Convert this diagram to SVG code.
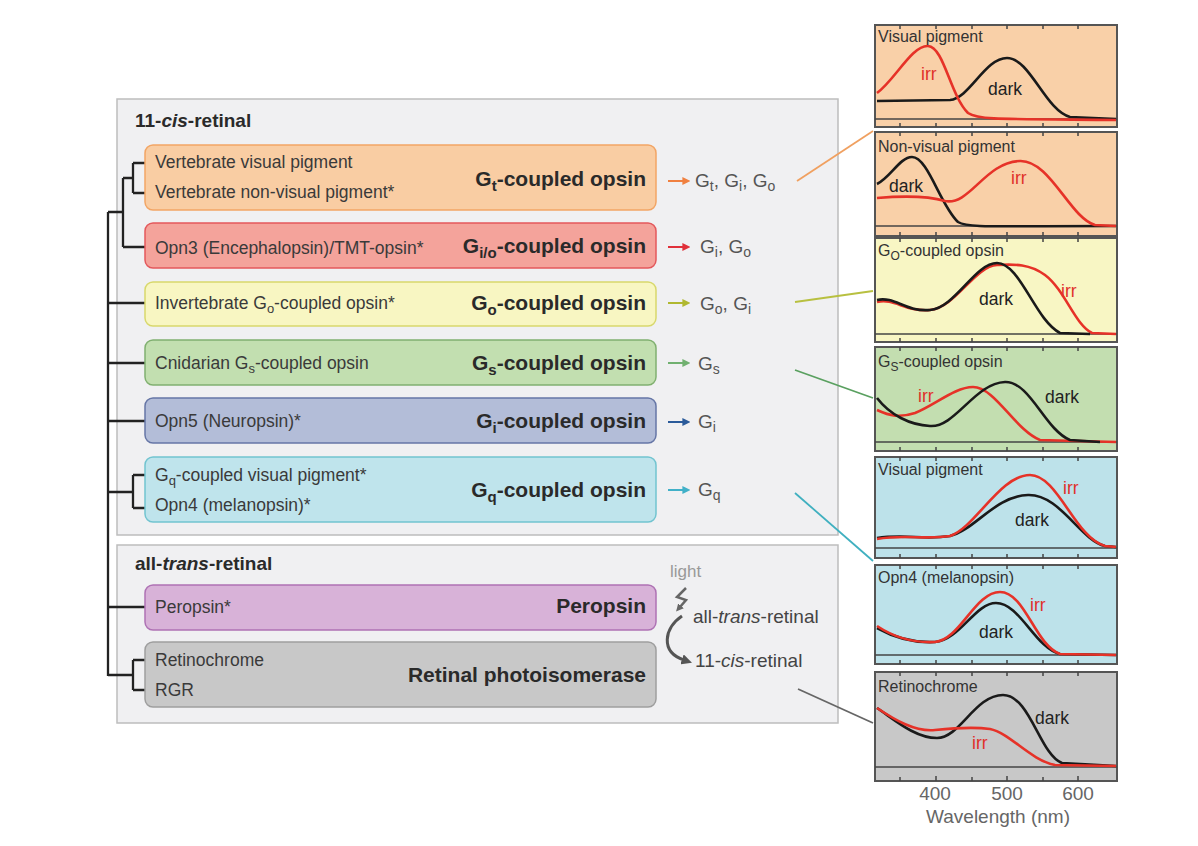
<svg xmlns="http://www.w3.org/2000/svg" width="1198" height="846" viewBox="0 0 1198 846">
<defs>
<style>
text{font-family:"Liberation Sans",Arial,Helvetica,sans-serif}
.grp{fill:#f0f0f2;stroke:#bdbdbd;stroke-width:1.5}
.hdr{font-size:19px;font-weight:bold;fill:#2a2a2a}
.lt{font-size:17.5px;fill:#3a3a3a}
.bl{font-size:21px;font-weight:bold;fill:#2a2a2a;text-anchor:end}
.gl{font-size:19px;fill:#555}
.tree{fill:none;stroke:#222;stroke-width:2.3}
.pan{stroke:#555;stroke-width:2}
.base{stroke:#444;stroke-width:1.5;fill:none}
.tick{stroke:#444;stroke-width:1.5}
.pt{font-size:16px;fill:#333}
.dk{font-size:17.5px;fill:#222}
.ir{font-size:17.5px;fill:#e0302a}
.cb{fill:none;stroke:#1a1a1a;stroke-width:2.6}
.cr{fill:none;stroke:#e63228;stroke-width:2.6}
.ax{font-size:19px;fill:#666}
</style>
<marker id="aO" viewBox="0 0 10 10" refX="2" refY="5" markerWidth="4" markerHeight="4" orient="auto"><path d="M0,0 L10,5 L0,10 z" fill="#f08040"/></marker>
<marker id="aR" viewBox="0 0 10 10" refX="2" refY="5" markerWidth="4" markerHeight="4" orient="auto"><path d="M0,0 L10,5 L0,10 z" fill="#e0303a"/></marker>
<marker id="aY" viewBox="0 0 10 10" refX="2" refY="5" markerWidth="4" markerHeight="4" orient="auto"><path d="M0,0 L10,5 L0,10 z" fill="#b0b830"/></marker>
<marker id="aG" viewBox="0 0 10 10" refX="2" refY="5" markerWidth="4" markerHeight="4" orient="auto"><path d="M0,0 L10,5 L0,10 z" fill="#70b070"/></marker>
<marker id="aB" viewBox="0 0 10 10" refX="2" refY="5" markerWidth="4" markerHeight="4" orient="auto"><path d="M0,0 L10,5 L0,10 z" fill="#2a5a9a"/></marker>
<marker id="aC" viewBox="0 0 10 10" refX="2" refY="5" markerWidth="4" markerHeight="4" orient="auto"><path d="M0,0 L10,5 L0,10 z" fill="#40b0c8"/></marker>
<marker id="aK" viewBox="0 0 10 10" refX="2" refY="5" markerWidth="3.5" markerHeight="3.5" orient="auto"><path d="M0,0 L10,5 L0,10 z" fill="#555"/></marker>
<marker id="aL" viewBox="0 0 10 10" refX="2" refY="5" markerWidth="3" markerHeight="3" orient="auto"><path d="M0,0 L10,5 L0,10 z" fill="#666"/></marker>
</defs>
<rect width="1198" height="846" fill="#ffffff"/>

<g id="group-cis">
<rect class="grp" x="117" y="99" width="721" height="436"/>
<text class="hdr" x="135" y="127">11-<tspan font-style="italic">cis</tspan>-retinal</text>
</g>
<g id="group-trans">
<rect class="grp" x="117" y="545" width="721" height="178"/>
<text class="hdr" x="135" y="570">all-<tspan font-style="italic">trans</tspan>-retinal</text>
</g>

<g id="tree">
<path class="tree" d="M108,212 V676"/>
<path class="tree" d="M108,212 H123 M123,178 V247 M123,178 H133 M133,163 V193 M133,163 H146 M133,193 H146 M123,247 H146"/>
<path class="tree" d="M108,303 H146 M108,363 H146 M108,421 H146"/>
<path class="tree" d="M108,492 H133 M133,475 V508 M133,475 H146 M133,508 H146"/>
<path class="tree" d="M108,607 H146"/>
<path class="tree" d="M108,675 H133 M133,660 V690 M133,660 H146 M133,690 H146"/>
</g>

<g id="node-gt">
<rect x="145" y="145" width="511" height="65" rx="8" fill="#f9cda3" stroke="#f2a565" stroke-width="1.5"/>
<text class="lt" x="155" y="168">Vertebrate visual pigment</text>
<text class="lt" x="155" y="198">Vertebrate non-visual pigment*</text>
<text class="bl" x="646" y="186">G<tspan font-size="15" dy="5">t</tspan><tspan dy="-5">-coupled opsin</tspan></text>
</g>
<g id="node-gio">
<rect x="145" y="223" width="511" height="45" rx="8" fill="#f4a39b" stroke="#e3585c" stroke-width="1.5"/>
<text class="lt" x="155" y="254">Opn3 (Encephalopsin)/TMT-opsin*</text>
<text class="bl" x="646" y="253">G<tspan font-size="15" dy="5">i/o</tspan><tspan dy="-5">-coupled opsin</tspan></text>
</g>
<g id="node-go">
<rect x="145" y="282" width="511" height="44" rx="8" fill="#f8f6c2" stroke="#d8d86c" stroke-width="1.5"/>
<text class="lt" x="155" y="309">Invertebrate G<tspan font-size="13" dy="4">o</tspan><tspan dy="-4">-coupled opsin*</tspan></text>
<text class="bl" x="646" y="310">G<tspan font-size="15" dy="5">o</tspan><tspan dy="-5">-coupled opsin</tspan></text>
</g>
<g id="node-gs">
<rect x="145" y="340" width="511" height="45" rx="8" fill="#c2dfb0" stroke="#80b070" stroke-width="1.5"/>
<text class="lt" x="155" y="369">Cnidarian G<tspan font-size="13" dy="4">s</tspan><tspan dy="-4">-coupled opsin</tspan></text>
<text class="bl" x="646" y="370">G<tspan font-size="15" dy="5">s</tspan><tspan dy="-5">-coupled opsin</tspan></text>
</g>
<g id="node-gi">
<rect x="145" y="398" width="511" height="45" rx="8" fill="#b3bdd8" stroke="#6676a6" stroke-width="1.5"/>
<text class="lt" x="155" y="427">Opn5 (Neuropsin)*</text>
<text class="bl" x="646" y="428">G<tspan font-size="15" dy="5">i</tspan><tspan dy="-5">-coupled opsin</tspan></text>
</g>
<g id="node-gq">
<rect x="145" y="457" width="511" height="65" rx="8" fill="#bfe4ec" stroke="#72c4d0" stroke-width="1.5"/>
<text class="lt" x="155" y="481">G<tspan font-size="13" dy="4">q</tspan><tspan dy="-4">-coupled visual pigment*</tspan></text>
<text class="lt" x="155" y="511">Opn4 (melanopsin)*</text>
<text class="bl" x="646" y="497">G<tspan font-size="15" dy="5">q</tspan><tspan dy="-5">-coupled opsin</tspan></text>
</g>
<g id="node-peropsin">
<rect x="145" y="585" width="511" height="45" rx="8" fill="#d8b2d8" stroke="#ae72b4" stroke-width="1.5"/>
<text class="lt" x="155" y="613">Peropsin*</text>
<text class="bl" x="646" y="613">Peropsin</text>
</g>
<g id="node-photoisomerase">
<rect x="145" y="642" width="511" height="65" rx="8" fill="#c8c8c8" stroke="#9e9e9e" stroke-width="1.5"/>
<text class="lt" x="155" y="666">Retinochrome</text>
<text class="lt" x="155" y="696">RGR</text>
<text class="bl" x="646" y="682">Retinal photoisomerase</text>
</g>

<g id="gprotein-labels">
<text class="gl" x="695" y="187">G<tspan font-size="14" dy="4">t</tspan><tspan dy="-4">, G</tspan><tspan font-size="14" dy="4">i</tspan><tspan dy="-4">, G</tspan><tspan font-size="14" dy="4">o</tspan></text>
<text class="gl" x="700" y="253">G<tspan font-size="14" dy="4">i</tspan><tspan dy="-4">, G</tspan><tspan font-size="14" dy="4">o</tspan></text>
<text class="gl" x="700" y="310">G<tspan font-size="14" dy="4">o</tspan><tspan dy="-4">, G</tspan><tspan font-size="14" dy="4">i</tspan></text>
<text class="gl" x="698" y="370">G<tspan font-size="14" dy="4">s</tspan></text>
<text class="gl" x="698" y="428">G<tspan font-size="14" dy="4">i</tspan></text>
<text class="gl" x="698" y="496">G<tspan font-size="14" dy="4">q</tspan></text>
</g>

<g id="light-reaction">
<text x="670" y="577" font-size="17" fill="#999">light</text>
<path d="M686,588 L677,597 L686,600 L680,607" fill="none" stroke="#666" stroke-width="2.5" marker-end="url(#aL)"/>
<text x="693" y="623" font-size="19" fill="#444">all-<tspan font-style="italic">trans</tspan>-retinal</text>
<text x="695" y="667" font-size="19" fill="#444">11-<tspan font-style="italic">cis</tspan>-retinal</text>
<path d="M682,616 C664,628 660,652 684,660" fill="none" stroke="#555" stroke-width="3" marker-end="url(#aK)"/>
</g>

<g id="connectors">
<line x1="668" y1="181" x2="684" y2="181" stroke="#f08040" stroke-width="2" marker-end="url(#aO)"/>
<line x1="668" y1="247" x2="684" y2="247" stroke="#e0303a" stroke-width="2" marker-end="url(#aR)"/>
<line x1="668" y1="303" x2="684" y2="303" stroke="#b0b830" stroke-width="2" marker-end="url(#aY)"/>
<line x1="668" y1="363" x2="684" y2="363" stroke="#70b070" stroke-width="2" marker-end="url(#aG)"/>
<line x1="668" y1="422" x2="684" y2="422" stroke="#2a5a9a" stroke-width="2" marker-end="url(#aB)"/>
<line x1="668" y1="490" x2="684" y2="490" stroke="#40b0c8" stroke-width="2" marker-end="url(#aC)"/>
<line x1="797" y1="181" x2="873" y2="131" stroke="#f0a060" stroke-width="1.8"/>
<line x1="795" y1="302" x2="873" y2="291" stroke="#b8c040" stroke-width="1.8"/>
<line x1="795" y1="370" x2="873" y2="398" stroke="#5aa060" stroke-width="1.8"/>
<line x1="795" y1="493" x2="873" y2="561" stroke="#40b0c0" stroke-width="1.8"/>
<line x1="798" y1="689" x2="873" y2="723" stroke="#666" stroke-width="1.8"/>
</g>

<g id="panel-1">
<rect class="pan" x="875" y="25" width="242" height="102" fill="#f9d0a8"/>
<line class="base" x1="875" y1="119" x2="1117" y2="119"/>
<path class="tick" d="M900,127v-4 M936,127v-4 M972,127v-4 M1007,127v-4 M1043,127v-4 M1078,127v-4 M900,25v4 M936,25v4 M972,25v4 M1007,25v4 M1043,25v4 M1078,25v4"/>
<path class="cb" d="M877,101 L950,100 C970,98 985,58 1007,58 C1030,58 1045,110 1070,117 L1116,119"/>
<path class="cr" d="M877,93 C895,80 912,45 928,46 C944,47 950,95 968,113 C978,120 1000,119 1116,120"/>
<text class="pt" x="878" y="42">Visual pigment</text>
<text class="ir" x="921" y="80">irr</text>
<text class="dk" x="988" y="95">dark</text>
</g>
<g id="panel-2">
<rect class="pan" x="875" y="132" width="242" height="104" fill="#f9d0a8"/>
<line class="base" x1="875" y1="226" x2="1117" y2="226"/>
<path class="tick" d="M900,236v-4 M936,236v-4 M972,236v-4 M1007,236v-4 M1043,236v-4 M1078,236v-4 M900,132v4 M936,132v4 M972,132v4 M1007,132v4 M1043,132v4 M1078,132v4"/>
<path class="cb" d="M877,184 C890,178 900,157 912,157 C928,157 940,205 958,222 C968,228 990,226 1116,226"/>
<path class="cr" d="M877,198 C900,196 925,195 945,201 C970,206 985,162 1020,161 C1050,160 1070,218 1095,225 L1116,226"/>
<text class="pt" x="878" y="152">Non-visual pigment</text>
<text class="dk" x="889" y="192">dark</text>
<text class="ir" x="1011" y="184">irr</text>
</g>
<g id="panel-3">
<rect class="pan" x="875" y="238" width="242" height="104" fill="#f8f6c4"/>
<line class="base" x1="875" y1="334" x2="1117" y2="334"/>
<path class="tick" d="M900,342v-4 M936,342v-4 M972,342v-4 M1007,342v-4 M1043,342v-4 M1078,342v-4 M900,238v4 M936,238v4 M972,238v4 M1007,238v4 M1043,238v4 M1078,238v4"/>
<path class="cr" d="M877,302 C895,298 905,312 930,310 C955,308 975,266 997,265 C1015,264 1030,264 1045,275 C1065,290 1075,325 1092,333 L1116,334"/>
<path class="cb" d="M877,300 C895,296 905,312 930,310 C955,308 975,263 997,263 C1020,263 1035,320 1060,333 L1090,334"/>
<text class="pt" x="878" y="256">G<tspan font-size="12" dy="4">O</tspan><tspan dy="-4">-coupled opsin</tspan></text>
<text class="dk" x="979" y="305">dark</text>
<text class="ir" x="1061" y="297">irr</text>
</g>
<g id="panel-4">
<rect class="pan" x="875" y="347" width="242" height="104" fill="#c3deb0"/>
<line class="base" x1="875" y1="442" x2="1117" y2="442"/>
<path class="tick" d="M900,451v-4 M936,451v-4 M972,451v-4 M1007,451v-4 M1043,451v-4 M1078,451v-4 M900,347v4 M936,347v4 M972,347v4 M1007,347v4 M1043,347v4 M1078,347v4"/>
<path class="cr" d="M877,410 C890,416 900,418 915,413 C935,405 955,387 973,387 C995,387 1015,430 1040,440 L1116,442"/>
<path class="cb" d="M877,398 C890,415 910,425 930,426 C955,428 975,383 1005,382 C1030,381 1045,430 1070,440 L1100,442"/>
<text class="pt" x="878" y="367">G<tspan font-size="12" dy="4">S</tspan><tspan dy="-4">-coupled opsin</tspan></text>
<text class="ir" x="918" y="402">irr</text>
<text class="dk" x="1045" y="403">dark</text>
</g>
<g id="panel-5">
<rect class="pan" x="875" y="457" width="242" height="101" fill="#bde2ea"/>
<line class="base" x1="875" y1="548" x2="1117" y2="548"/>
<path class="tick" d="M900,558v-4 M936,558v-4 M972,558v-4 M1007,558v-4 M1043,558v-4 M1078,558v-4 M900,457v4 M936,457v4 M972,457v4 M1007,457v4 M1043,457v4 M1078,457v4"/>
<path class="cb" d="M877,538 C905,534 925,540 950,536 C975,530 995,496 1028,495 C1060,494 1080,540 1105,546 L1116,547"/>
<path class="cr" d="M877,539 C905,534 925,540 950,536 C975,528 1000,475 1030,475 C1058,475 1075,538 1105,546 L1116,547"/>
<text class="pt" x="878" y="475">Visual pigment</text>
<text class="ir" x="1063" y="494">irr</text>
<text class="dk" x="1015" y="526">dark</text>
</g>
<g id="panel-6">
<rect class="pan" x="875" y="565" width="242" height="99" fill="#bde2ea"/>
<line class="base" x1="875" y1="655" x2="1117" y2="655"/>
<path class="tick" d="M900,664v-4 M936,664v-4 M972,664v-4 M1007,664v-4 M1043,664v-4 M1078,664v-4 M900,565v4 M936,565v4 M972,565v4 M1007,565v4 M1043,565v4 M1078,565v4"/>
<path class="cb" d="M877,628 C895,638 915,643 935,642 C960,640 975,603 996,603 C1020,603 1035,648 1060,654 L1116,655"/>
<path class="cr" d="M877,626 C895,638 915,643 935,642 C960,640 975,592 1000,592 C1025,592 1035,645 1060,654 L1116,655"/>
<text class="pt" x="878" y="583">Opn4 (melanopsin)</text>
<text class="ir" x="1030" y="611">irr</text>
<text class="dk" x="979" y="638">dark</text>
</g>
<g id="panel-7">
<rect class="pan" x="875" y="672" width="242" height="109" fill="#c8c8c8"/>
<line class="base" x1="875" y1="767" x2="1117" y2="767"/>
<path class="tick" d="M900,781v-4 M936,781v-5 M972,781v-4 M1007,781v-5 M1043,781v-4 M1078,781v-5 M900,672v4 M936,672v4 M972,672v4 M1007,672v4 M1043,672v4 M1078,672v4"/>
<path class="cb" d="M877,708 C895,720 915,738 937,738 C960,738 975,695 1003,695 C1030,695 1040,755 1062,763 L1116,766"/>
<path class="cr" d="M877,708 C895,720 915,732 935,730 C955,728 975,727 990,729 C1010,733 1030,760 1055,765 L1116,766"/>
<text class="pt" x="878" y="692">Retinochrome</text>
<text class="dk" x="1035" y="724">dark</text>
<text class="ir" x="972" y="749">irr</text>
</g>

<g id="axis">
<text class="ax" x="935" y="800" text-anchor="middle">400</text>
<text class="ax" x="1007" y="800" text-anchor="middle">500</text>
<text class="ax" x="1078" y="800" text-anchor="middle">600</text>
<text class="ax" x="998" y="823" text-anchor="middle">Wavelength (nm)</text>
</g>
</svg>
